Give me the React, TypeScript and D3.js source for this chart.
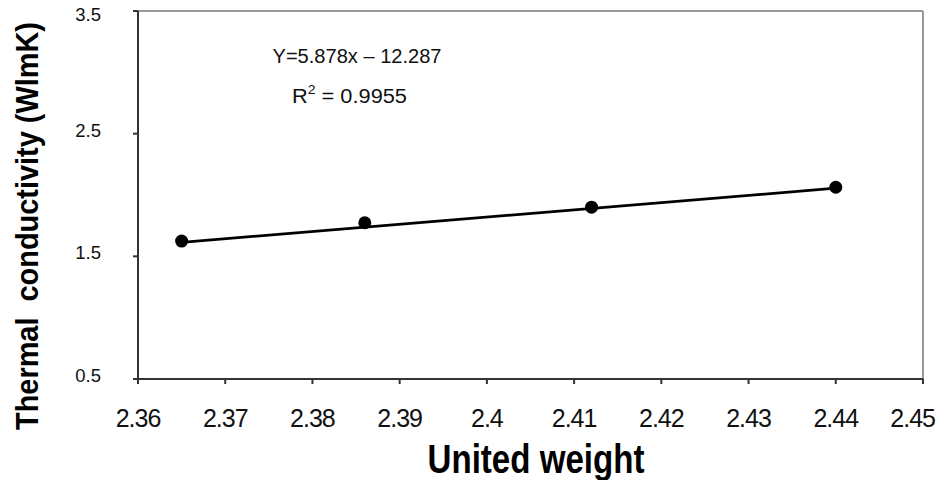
import React from 'react';
import * as d3 from 'd3';

// data
const unitWeight = [2.365, 2.386, 2.412, 2.44];
const conductivity = [1.624, 1.774, 1.901, 2.063];
const xTicks = [2.36, 2.37, 2.38, 2.39, 2.4, 2.41, 2.42, 2.43, 2.44, 2.45];
const yTicks = [0.5, 1.5, 2.5, 3.5];
const slope = 5.878;
const intercept = -12.287;
const rSquared = '0.9955';

const width = 940;
const height = 480;
const font = 'Liberation Sans, Arial, sans-serif';

const App = () => {
  const x = d3.scaleLinear().domain([2.36, 2.45]).range([138, 923]);
  const y = d3.scaleLinear().domain([0.5, 3.5]).range([379, 11]);

  const x0 = unitWeight[0];
  const x1 = unitWeight[unitWeight.length - 1];
  const trend = d3.line<number>()
    .x(d => x(d))
    .y(d => y(slope * d + intercept));

  return (
    <svg width={width} height={height}
      style={{ position: 'fixed', left: 0, top: 0, background: '#fff' }}
      fontFamily={font}>
      {/* frame: top and right in grey */}
      <line x1={x(2.36)} x2={x(2.45)} y1={y(3.5)} y2={y(3.5)} stroke="#9a9a9a" strokeWidth={2} />
      <line x1={x(2.45)} x2={x(2.45)} y1={y(3.5)} y2={y(0.5)} stroke="#9a9a9a" strokeWidth={2} />

      {/* axes */}
      <line x1={x(2.36)} x2={x(2.36)} y1={y(3.5)} y2={y(0.5) + 5} stroke="#333" strokeWidth={2} />
      <line x1={x(2.36) - 5} x2={x(2.45)} y1={y(0.5)} y2={y(0.5)} stroke="#333" strokeWidth={2} />

      {yTicks.map(t => (
        <g key={t}>
          <line x1={x(2.36) - 5} x2={x(2.36)} y1={y(t)} y2={y(t)} stroke="#333" strokeWidth={2} />
          <text x={101} y={Math.max(y(t) + 3, 21)} textAnchor="end" fontSize={18.5} fill="#111">{t.toFixed(1)}</text>
        </g>
      ))}

      {xTicks.map((t, i) => {
        const last = i === xTicks.length - 1;
        return (
          <g key={t}>
            <line x1={x(t)} x2={x(t)} y1={y(0.5)} y2={y(0.5) + 5} stroke="#333" strokeWidth={2} />
            <text x={last ? 935 : x(t)} y={427} textAnchor={last ? 'end' : 'middle'} fontSize={25}
              letterSpacing={-1} fill="#111">{d3.format('')(+t.toFixed(2))}</text>
          </g>
        );
      })}

      {/* trend line */}
      <path d={trend([x0, x1]) || ''} fill="none" stroke="#000" strokeWidth={2.8} />

      {/* points */}
      {unitWeight.map((w, i) => (
        <circle key={i} cx={x(w)} cy={y(conductivity[i])} r={6.5} fill="#000" />
      ))}

      {/* equation */}
      <text x={357} y={63} textAnchor="middle" fontSize={19.5} fill="#111"
        textLength={169} lengthAdjust="spacingAndGlyphs">
        {`Y=${slope}x – ${Math.abs(intercept)}`}
      </text>
      <text x={292} y={103} fontSize={19.5} fill="#111" textLength={115} lengthAdjust="spacingAndGlyphs">
        R<tspan dy={-9} fontSize={12.5}>2</tspan><tspan dy={9}> = {rSquared}</tspan>
      </text>

      {/* axis titles */}
      <text x={536} y={473} textAnchor="middle" fontSize={40} fontWeight="bold" fill="#000"
        textLength={217} lengthAdjust="spacingAndGlyphs">United weight</text>
      <text transform="translate(38,226) rotate(-90)" textAnchor="middle" fontSize={30.5}
        fontWeight="bold" fill="#000" textLength={408} lengthAdjust="spacingAndGlyphs"
        style={{ whiteSpace: 'pre' }}>
        {'Thermal  conductivity (WlmK)'}
      </text>
    </svg>
  );
};

export default App;
